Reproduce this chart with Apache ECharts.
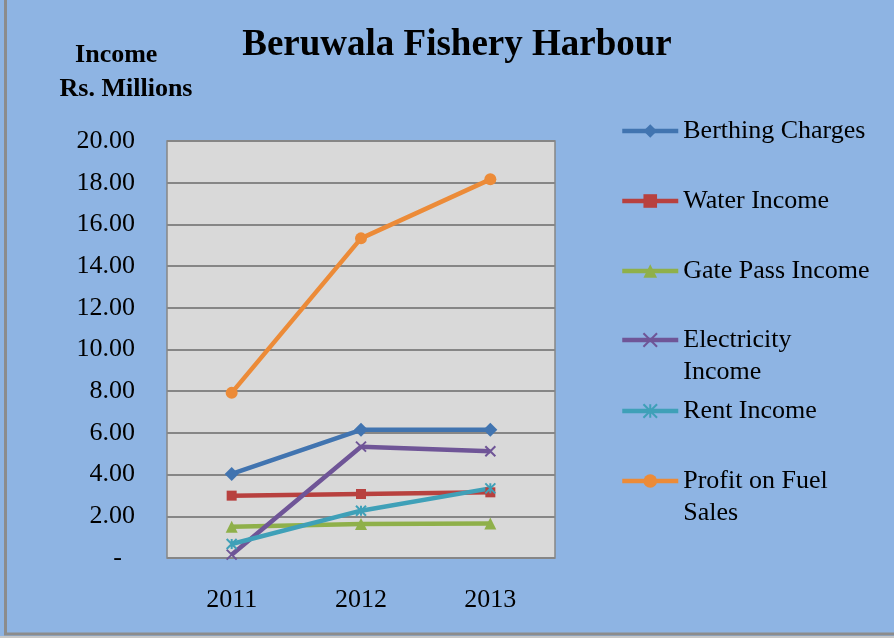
<!DOCTYPE html>
<html>
<head>
<meta charset="utf-8">
<script src="https://cdn.jsdelivr.net/npm/echarts@6/dist/echarts.min.js"></script>
<style>
  html, body { margin: 0; padding: 0; background: #8eb4e3; }
  #chart { width: 894px; height: 638px; }
</style>
</head>
<body>
<div id="chart"></div>
<script>
// values, Rs. Millions
const years = ['2011', '2012', '2013']
const berthing = [4.03, 6.15, 6.15]
const water = [2.99, 3.07, 3.15]
const gatePass = [1.50, 1.63, 1.66]
const electricity = [0.16, 5.34, 5.12]
const rent = [0.67, 2.27, 3.34]
const fuelProfit = [7.92, 15.33, 18.16]

const serif = '"Liberation Serif", "DejaVu Serif", serif'
const crossPath = 'path://M0,0L10,10M10,0L0,10'
const starPath = 'path://M0,0L10,10M10,0L0,10M5,0L5,10'

const seriesList = [
  { name: 'Berthing Charges', data: berthing, color: '#4174b0', symbol: 'diamond', size: 14 },
  { name: 'Water Income', data: water, color: '#b8413f', symbol: 'rect', size: 10 },
  { name: 'Gate Pass Income', data: gatePass, color: '#8fb04a', symbol: 'triangle', size: 12 },
  { name: 'Electricity\nIncome', data: electricity, color: '#6f5597', symbol: crossPath, size: 10, stroke: true },
  { name: 'Rent Income', data: rent, color: '#3fa0b8', symbol: starPath, size: 10, stroke: true },
  { name: 'Profit on Fuel\nSales', data: fuelProfit, color: '#ec8b38', symbol: 'circle', size: 12 }
]
// legend icon centres (y)
const legendY = [131, 201, 271, 340, 411, 481]

const chart = echarts.init(document.getElementById('chart'))

// one legend per entry so each sits where Excel put it;
// two-line names get a blank first line so the icon lines up with the first text line
const legends = seriesList.map((s, i) => {
  const twoLines = s.name.indexOf('\n') >= 0
  return {
    data: [s.name],
    left: 620,
    top: twoLines ? legendY[i] - 48 : legendY[i] - 16,
    orient: 'vertical',
    itemWidth: 56,
    itemHeight: 17,
    itemGap: 0,
    padding: 0,
    selectedMode: false,
    formatter: name => name.indexOf('\n') >= 0 ? '\n' + name : name,
    lineStyle: { width: 4.5 },
    textStyle: {
      fontFamily: serif,
      fontSize: 26,
      color: '#000',
      lineHeight: 32
    }
  }
})

chart.setOption({
  backgroundColor: '#8eb4e3',
  title: [
    {
      text: 'Beruwala Fishery Harbour',
      left: 452, top: 22, textAlign: 'center',
      textStyle: { fontFamily: serif, fontSize: 37, fontWeight: 'bold', color: '#000' }
    },
    {
      text: 'Income   \nRs. Millions',
      left: 121, top: 33, textAlign: 'center',
      textStyle: { fontFamily: serif, fontSize: 26, fontWeight: 'bold', color: '#000', lineHeight: 34 }
    }
  ],
  legend: legends,
  grid: {
    left: 167, right: 339, top: 141, bottom: 80,
    show: true, backgroundColor: '#d9d9d9', borderColor: '#868686', borderWidth: 1.5
  },
  xAxis: {
    type: 'category',
    data: years,
    boundaryGap: true,
    axisLine: { show: false },
    axisTick: { show: false },
    axisLabel: { fontFamily: serif, fontSize: 26, color: '#000', margin: 29 }
  },
  yAxis: {
    type: 'value',
    min: 0, max: 20, interval: 2,
    axisLine: { show: false },
    axisTick: { show: false },
    splitLine: { lineStyle: { color: '#868686', width: 2 } },
    axisLabel: {
      fontFamily: serif, fontSize: 26, color: '#000', margin: 32,
      formatter: v => v === 0 ? '-  ' : v.toFixed(2)
    }
  },
  series: seriesList.map(s => ({
    name: s.name,
    type: 'line',
    data: s.data,
    symbol: s.symbol,
    symbolSize: s.size,
    color: s.color,
    lineStyle: { width: 4.5, color: s.color },
    itemStyle: s.stroke
      ? { color: s.color, borderColor: s.color, borderWidth: 2 }
      : { color: s.color },
    animation: false
  })),
  graphic: [
    { type: 'line', shape: { x1: 5.5, y1: 0, x2: 5.5, y2: 634 }, style: { stroke: '#8c8c8c', lineWidth: 3 } },
    { type: 'line', shape: { x1: 4, y1: 634, x2: 894, y2: 634 }, style: { stroke: '#8c8c8c', lineWidth: 3 } },
    { type: 'rect', shape: { x: 0, y: 636, width: 894, height: 2 }, style: { fill: '#c8c8c8' } }
  ]
})
</script>
</body>
</html>
